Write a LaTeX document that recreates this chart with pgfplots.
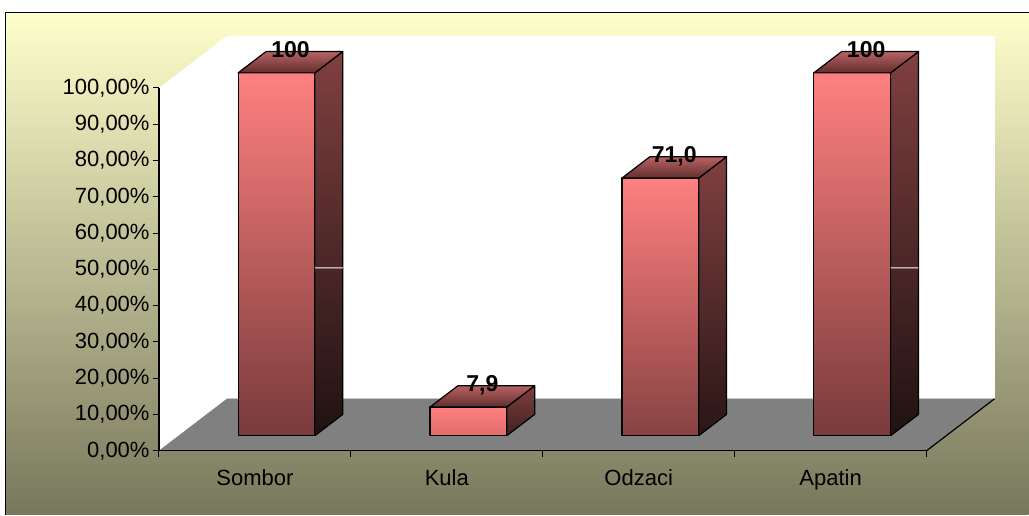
\documentclass[border=0pt]{standalone}
\usepackage{pgfplots}
\pgfplotsset{compat=1.18}
\usepackage{fontspec}
\setmainfont{Liberation Sans}
\definecolor{bgtop}{RGB}{255,255,204}
\definecolor{bgbot}{RGB}{119,119,92}
\definecolor{floorgray}{RGB}{128,128,128}
\definecolor{fTop}{RGB}{255,128,128}
\definecolor{fBotA}{RGB}{120,58,58}
\definecolor{fBotO}{RGB}{135,66,66}
\definecolor{fBotK}{RGB}{224,108,108}
\definecolor{sTop}{RGB}{128,64,64}
\definecolor{sBotA}{RGB}{32,18,18}
\definecolor{sBotO}{RGB}{42,22,22}
\definecolor{sBotK}{RGB}{64,32,32}
\definecolor{tBack}{RGB}{185,98,98}
\definecolor{tFront}{RGB}{96,46,46}
\begin{document}
\begin{tikzpicture}
\begin{axis}[
  x={(96pt,0pt)}, y={(34pt,26pt)}, z={(0pt,1.815pt)},
  xmin=0,xmax=4,ymin=0,ymax=1,zmin=0,zmax=100,
  hide axis, clip=false,
  bar/.style={draw=black,line width=0.6pt,line join=round},
]
\coordinate (O) at (axis cs:0,0,0);
% page and framed background
\fill[white] (axis cs:-0.828125,0,124.24) rectangle (axis cs:4.53125,0,-17.63);
\shade[top color=bgtop,bottom color=bgbot] (axis cs:-0.7995,0,120.80) rectangle (axis cs:4.53125,0,-17.63);
\draw[black,line width=0.5pt] (axis cs:-0.7995,0,-17.63) -- (axis cs:-0.7995,0,120.80) -- (axis cs:4.53125,0,120.80);
% walls and floor
\addplot3[fill=white,draw=none] coordinates {(0,0,0) (0,1,0) (0,1,100) (0,0,100)} -- cycle;
\addplot3[fill=white,draw=none] coordinates {(0,1,0) (4,1,0) (4,1,100) (0,1,100)} -- cycle;
\addplot3[fill=floorgray,draw=none] coordinates {(0,0,0) (4,0,0) (4,1,0) (0,1,0)} -- cycle;
\addplot3[draw={rgb,255:red,200;green,200;blue,200},line width=0.6pt] coordinates {(0,1,0) (4,1,0)};
\addplot3[draw=black,line width=0.6pt] coordinates {(4,0,0) (4,1,0)};
% Sombor 100
\addplot3[bar,top color=fTop,bottom color=fBotA] coordinates {(0.31,0.29,0) (0.71,0.29,0) (0.71,0.29,100) (0.31,0.29,100)} -- cycle;
\addplot3[bar,top color=sTop,bottom color=sBotA] coordinates {(0.71,0.29,0) (0.71,0.70,0) (0.71,0.70,100) (0.71,0.29,100)} -- cycle;
\addplot3[bar,top color=tBack,bottom color=tFront] coordinates {(0.31,0.29,100) (0.71,0.29,100) (0.71,0.70,100) (0.31,0.70,100)} -- cycle;
\addplot3[white,line width=0.5pt] coordinates {(0.71,0.29,46.26) (0.71,0.70,40.39)};
% Kula 7.9
\addplot3[bar,top color=fTop,bottom color=fBotK] coordinates {(1.31,0.29,0) (1.71,0.29,0) (1.71,0.29,7.9) (1.31,0.29,7.9)} -- cycle;
\addplot3[bar,top color=sTop,bottom color=sBotK] coordinates {(1.71,0.29,0) (1.71,0.70,0) (1.71,0.70,7.9) (1.71,0.29,7.9)} -- cycle;
\addplot3[bar,top color=tBack,bottom color=tFront] coordinates {(1.31,0.29,7.9) (1.71,0.29,7.9) (1.71,0.70,7.9) (1.31,0.70,7.9)} -- cycle;
% Odzaci 71.0
\addplot3[bar,top color=fTop,bottom color=fBotO] coordinates {(2.31,0.29,0) (2.71,0.29,0) (2.71,0.29,71.0) (2.31,0.29,71.0)} -- cycle;
\addplot3[bar,top color=sTop,bottom color=sBotO] coordinates {(2.71,0.29,0) (2.71,0.70,0) (2.71,0.70,71.0) (2.71,0.29,71.0)} -- cycle;
\addplot3[bar,top color=tBack,bottom color=tFront] coordinates {(2.31,0.29,71.0) (2.71,0.29,71.0) (2.71,0.70,71.0) (2.31,0.70,71.0)} -- cycle;
% Apatin 100
\addplot3[bar,top color=fTop,bottom color=fBotA] coordinates {(3.31,0.29,0) (3.71,0.29,0) (3.71,0.29,100) (3.31,0.29,100)} -- cycle;
\addplot3[bar,top color=sTop,bottom color=sBotA] coordinates {(3.71,0.29,0) (3.71,0.70,0) (3.71,0.70,100) (3.71,0.29,100)} -- cycle;
\addplot3[bar,top color=tBack,bottom color=tFront] coordinates {(3.31,0.29,100) (3.71,0.29,100) (3.71,0.70,100) (3.31,0.70,100)} -- cycle;
\addplot3[white,line width=0.5pt] coordinates {(3.71,0.29,46.26) (3.71,0.70,40.39)};
% value labels
\node[font=\bfseries\fontsize{11.5}{13}\selectfont,anchor=base,yshift=2.5pt] at (axis cs:0.51,0.495,100) {100};
\node[font=\bfseries\fontsize{11.5}{13}\selectfont,anchor=base,yshift=2.5pt] at (axis cs:1.51,0.495,7.9) {7,9};
\node[font=\bfseries\fontsize{11.5}{13}\selectfont,anchor=base,yshift=2.5pt] at (axis cs:2.51,0.495,71.0) {71,0};
\node[font=\bfseries\fontsize{11.5}{13}\selectfont,anchor=base,yshift=2.5pt] at (axis cs:3.51,0.495,100) {100};
\end{axis}
\begin{axis}[
  at={(O)}, anchor=south west,
  scale only axis, width=384pt, height=181.5pt,
  xmin=0,xmax=4,ymin=0,ymax=100,
  axis x line*=bottom, axis y line*=left,
  axis line style={black,line width=0.6pt,-},
  xtick={0,1,2,3,4}, x tick label as interval,
  xticklabels={Sombor,Kula,Odzaci,Apatin},
  ytick={0,10,20,30,40,50,60,70,80,90,100},
  yticklabels={{0,00\%},{10,00\%},{20,00\%},{30,00\%},{40,00\%},{50,00\%},{60,00\%},{70,00\%},{80,00\%},{90,00\%},{100,00\%}},
  tick align=outside, major tick length=3pt,
  tick style={black,line width=0.5pt},
  ticklabel style={font=\fontsize{11}{13}\selectfont},
  yticklabel style={inner sep=1.5pt},
  xticklabel style={inner sep=0pt,yshift=-6pt},
]
\end{axis}
\end{tikzpicture}
\end{document}
